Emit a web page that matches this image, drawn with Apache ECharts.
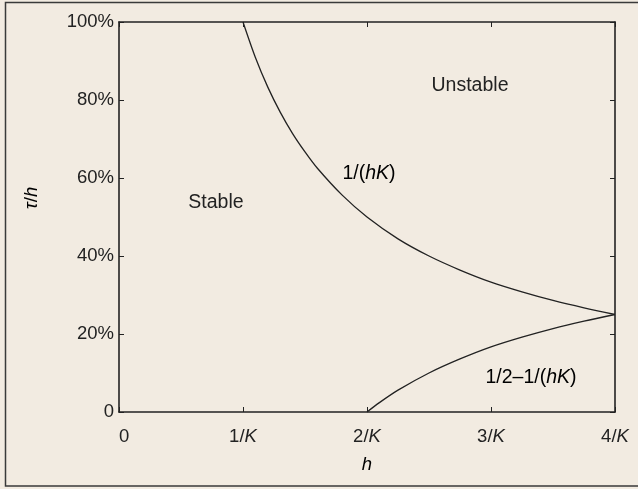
<!DOCTYPE html>
<html>
<head>
<meta charset="utf-8">
<script src="https://cdn.jsdelivr.net/npm/echarts@6/dist/echarts.min.js"></script>
<style>
html,body{margin:0;padding:0;background:#f2ebe1;}
#c{width:638px;height:489px;}
</style>
</head>
<body>
<div id="c"></div>
<script>
// h in units of 1/K
var hUpper = [1, 1.1, 1.2, 1.3, 1.4, 1.5, 1.6, 1.8, 2, 2.25, 2.5, 2.75, 3, 3.25, 3.5, 3.75, 4];
var tauUpper = [100, 90.9, 83.3, 76.9, 71.4, 66.7, 62.5, 55.6, 50, 44.4, 40, 36.4, 33.3, 30.8, 28.6, 26.7, 25];
var hLower = [2, 2.1, 2.25, 2.5, 2.75, 3, 3.25, 3.5, 3.75, 4];
var tauLower = [0, 2.4, 5.6, 10, 13.6, 16.7, 19.2, 21.4, 23.3, 25];
var xTicks = [0, 1, 2, 3, 4];
var yTicks = [0, 20, 40, 60, 80, 100];

var FONT = 'Liberation Sans, Arial, sans-serif';
var FS = 18.5;
var FS2 = 19.5;
var INK = '#222';

function zip(a, b) { return a.map(function (v, i) { return [v, b[i]]; }); }

var chart = echarts.init(document.getElementById('c'), null, {renderer: 'canvas'});
function axisCommon() {
  return {
    min: 0,
    axisLine: {show: true, onZero: false, lineStyle: {color: INK, width: 1.6}},
    axisTick: {show: true, inside: true, length: 5, lineStyle: {color: INK, width: 1}},
    splitLine: {show: false}
  };
}
var rich = {
  n: {fontFamily: FONT, fontSize: FS, color: INK},
  i: {fontFamily: FONT, fontSize: FS, color: INK, fontStyle: 'italic'}
};
var rich2 = {
  n: {fontFamily: FONT, fontSize: FS2, color: INK},
  i: {fontFamily: FONT, fontSize: FS2, color: INK, fontStyle: 'italic'}
};
chart.setOption({
  backgroundColor: '#f2ebe1',
  animation: false,
  grid: {left: 119, right: 23, top: 22, bottom: 77, containLabel: false},
  xAxis: [
    Object.assign(axisCommon(), {
      type: 'value', max: 4, interval: 1, position: 'bottom',
      axisLabel: {
        margin: 15, color: INK, fontFamily: FONT, fontSize: FS, alignMinLabel: 'left',
        formatter: function (v) { return v === 0 ? '{n|0}' : '{n|' + v + '/}{i|K}'; },
        rich: rich
      }
    }),
    Object.assign(axisCommon(), {
      type: 'value', max: 4, interval: 1, position: 'top',
      axisLabel: {show: false}
    })
  ],
  yAxis: [
    Object.assign(axisCommon(), {
      type: 'value', max: 100, interval: 20, position: 'left',
      axisLabel: {
        margin: 5, color: INK, fontFamily: FONT, fontSize: FS,
        formatter: function (v) { return v === 0 ? '0' : v + '%'; }
      }
    }),
    Object.assign(axisCommon(), {
      type: 'value', max: 100, interval: 20, position: 'right',
      axisLabel: {show: false}
    })
  ],
  series: [
    {
      type: 'line', data: zip(hUpper, tauUpper), xAxisIndex: 0, yAxisIndex: 0,
      showSymbol: false, smooth: 0.3,
      lineStyle: {color: INK, width: 1.3}
    },
    {
      type: 'line', data: zip(hLower, tauLower), xAxisIndex: 0, yAxisIndex: 0,
      showSymbol: false, smooth: 0.3,
      lineStyle: {color: INK, width: 1.3}
    }
  ],
  graphic: [
    {type: 'rect', shape: {x: 5.5, y: 2.5, width: 700, height: 483.5}, silent: true,
     style: {fill: 'none', stroke: '#3a3a3a', lineWidth: 1.5}, z: -1},
    {type: 'text', x: 470, y: 86, style: {text: 'Unstable', font: FS2 + 'px ' + FONT, fill: INK, align: 'center', verticalAlign: 'middle'}},
    {type: 'text', x: 216, y: 203, style: {text: 'Stable', font: FS2 + 'px ' + FONT, fill: INK, align: 'center', verticalAlign: 'middle'}},
    {type: 'text', x: 369, y: 174, style: {text: '{n|1/(}{i|hK}{n|)}', rich: rich2, align: 'center', verticalAlign: 'middle'}},
    {type: 'text', x: 531, y: 378, style: {text: '{n|1/2\u20131/(}{i|hK}{n|)}', rich: rich2, align: 'center', verticalAlign: 'middle'}},
    {type: 'text', x: 367, y: 465, style: {text: '{i|h}', rich: rich, align: 'center', verticalAlign: 'middle'}},
    {type: 'text', x: 32, y: 198, rotation: Math.PI / 2, style: {text: '{i|\u03c4}{n|/}{i|h}', rich: rich, align: 'center', verticalAlign: 'middle'}}
  ]
});
</script>
</body>
</html>
